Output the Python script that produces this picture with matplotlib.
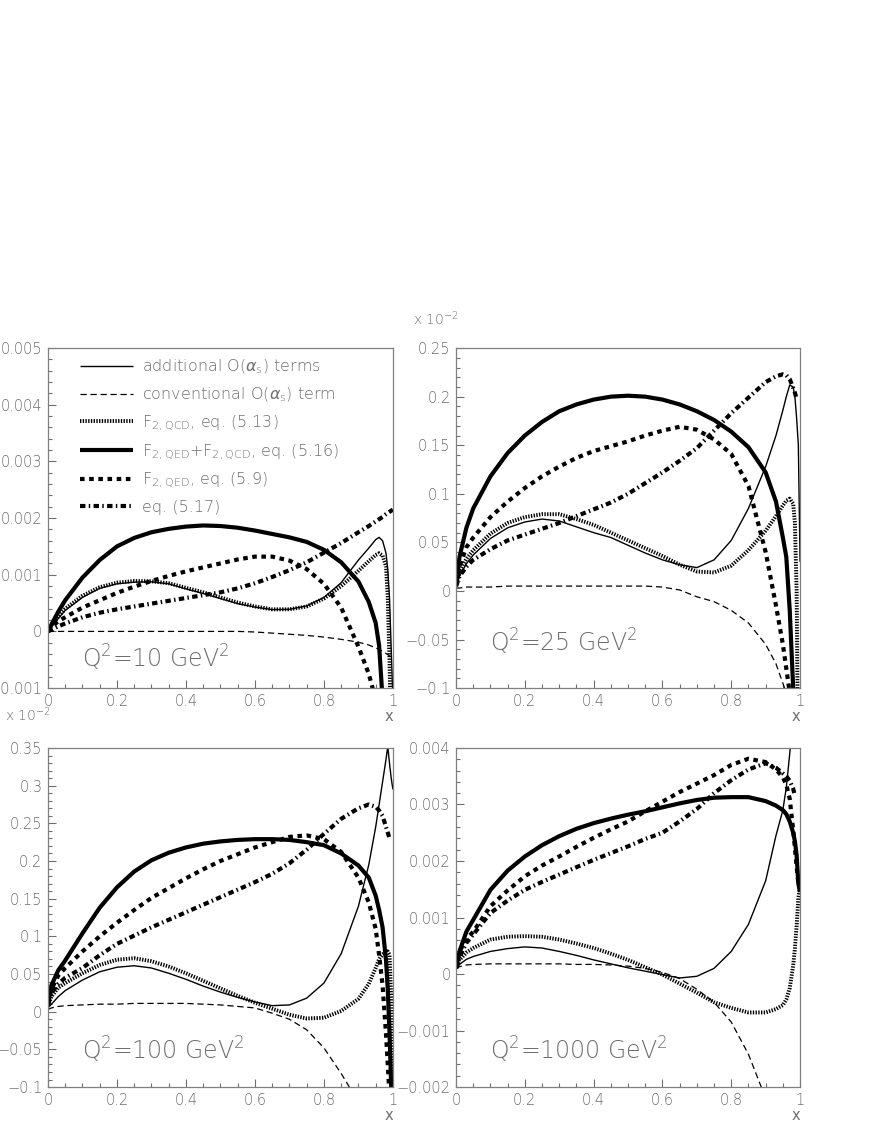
import numpy as np
import matplotlib
matplotlib.use('Agg')
import matplotlib.pyplot as plt
from matplotlib.ticker import MultipleLocator, FuncFormatter

# common x grid
x = [0, 0.01, 0.03, 0.05, 0.1, 0.15, 0.2, 0.25, 0.3, 0.35, 0.4, 0.45, 0.5, 0.55, 0.6,
     0.65, 0.7, 0.75, 0.8, 0.85, 0.9, 0.93, 0.95, 0.96, 0.97, 0.98, 0.985, 0.99, 0.995, 1.0]
nan = float('nan')

# Q^2 = 10 GeV^2  (values in units of 1e-3)
q10_add = [0, .08, .23, .37, .6, .76, .84, .87, .875, .84, .75, .67, .58, .49, .43,
           .385, .39, .45, .6, .86, 1.26, 1.47, 1.62, 1.66, 1.6, 1.38, 1.1, .6, -.3, -1.2]
q10_conv = [0, 0, 0, 0, 0, 0, 0, 0, 0, 0, 0, 0, 0, 0, -.01,
            -.03, -.05, -.07, -.1, -.14, -.19, -.24, -.29, -.32, -.35, -.39, -.41, -.43, -.45, -.47]
q10_qcd = [0, .1, .26, .4, .63, .78, .86, .89, .885, .85, .77, .69, .6, .51, .44,
           .39, .39, .44, .58, .8, 1.07, 1.24, 1.35, 1.38, 1.34, 1.15, .6, -.5, -2, -2]
q10_sum = [0, .12, .35, .55, .95, 1.26, 1.5, 1.65, 1.75, 1.81, 1.85, 1.87, 1.86, 1.83, 1.78,
           1.72, 1.66, 1.58, 1.44, 1.22, .88, .52, .15, -.25, -1.2, -2, -2, -2, -2, -2]
q10_qed = [0, .08, .18, .25, .42, .55, .68, .79, .89, .98, 1.06, 1.13, 1.2, 1.27, 1.32,
           1.32, 1.25, 1.1, .84, .42, -.27, -.75, -1.2, -2, -2, -2, -2, -2, -2, -2]
q10_eq517 = [0, .03, .09, .14, .25, .33, .39, .44, .49, .54, .59, .64, .69, .76, .85,
             .96, 1.08, 1.22, 1.39, 1.56, 1.75, 1.86, 1.94, 1.98, 2.02, 2.07, 2.09, 2.11, 2.13, 2.15]

# Q^2 = 25 GeV^2  (values in units of 1e-2)
q25_add = [.005, .015, .028, .037, .054, .065, .071, .074, .072, .066, .06, .055, .047, .039, .032,
           .027, .024, .032, .052, .085, .128, .16, .186, .2, .212, .21, .2, .178, .15, .03]
q25_conv = [.003, .003, .004, .004, .004, .005, .005, .005, .005, .005, .005, .005, .005, .005, .004,
            .001, -.006, -.011, -.02, -.033, -.055, -.075, -.095, -.105, -.12, -.14, -.15, -.16, -.17, -.18]
q25_qcd = [.005, .02, .033, .042, .059, .07, .076, .079, .079, .074, .068, .06, .052, .044, .036,
           .027, .02, .019, .026, .042, .062, .077, .088, .093, .095, .09, .07, 0, -.2, -.2]
q25_sum = [.005, .035, .065, .085, .118, .142, .16, .174, .185, .192, .197, .2, .201, .2, .197,
           .192, .185, .176, .164, .148, .122, .092, .055, .035, -.02, -.1, -.2, -.2, -.2, -.2]
q25_qed = [.008, .025, .045, .055, .076, .092, .106, .118, .128, .137, .144, .149, .154, .16, .165,
           .169, .166, .156, .141, .108, .04, -.015, -.055, -.08, -.105, -.2, -.2, -.2, -.2, -.2]
q25_eq517 = [.005, .015, .025, .032, .043, .052, .058, .064, .07, .077, .084, .091, .1, .111, .122,
             .134, .147, .165, .183, .199, .215, .221, .223, .222, .218, .209, .204, .198, nan, nan]

# Q^2 = 100 GeV^2  (values in units of 1e-2)
q100_add = [.005, .01, .02, .028, .042, .053, .059, .061, .058, .051, .043, .034, .026, .019, .013,
            .008, .009, .018, .038, .077, .14, .195, .245, .275, .305, .335, .352, .33, .31, .295]
q100_conv = [.003, .005, .007, .008, .009, .01, .01, .011, .011, .011, .011, .01, .009, .007, .005,
             -.002, -.01, -.024, -.048, -.082, -.12, -.15, -.17, -.18, -.19, -.2, -.2, -.2, -.2, -.2]
q100_qcd = [.008, .02, .032, .038, .051, .062, .069, .071, .067, .06, .051, .041, .031, .021, .012,
            .004, -.004, -.009, -.008, .001, .017, .037, .058, .07, .076, .08, .08, .076, .02, -.1]
q100_sum = [.01, .035, .055, .068, .104, .138, .165, .186, .201, .211, .218, .223, .226, .228, .229,
            .229, .228, .225, .221, .21, .194, .178, .154, .135, .112, .068, .03, -.026, -.1, -.2]
q100_qed = [.01, .03, .048, .058, .08, .1, .118, .135, .151, .164, .177, .189, .2, .209, .218,
            .225, .232, .234, .229, .212, .178, .145, .11, .075, .035, -.03, -.07, -.11, -.2, -.2]
q100_eq517 = [.01, .025, .037, .045, .058, .075, .09, .101, .112, .122, .132, .142, .152, .162, .172,
              .183, .197, .215, .236, .256, .27, .275, .272, .267, .26, .245, .238, .23, nan, nan]

# Q^2 = 1000 GeV^2  (values in units of 1e-3)
q1000_add = [.1, .17, .26, .31, .4, .45, .48, .46, .4, .33, .25, .18, .11, .05, -.01,
             -.07, -.04, .1, .4, .88, 1.65, 2.45, 2.9, 3.3, 3.9, 4.6, 5, 5, 5, 5]
q1000_conv = [.1, .13, .16, .17, .18, .18, .18, .18, .18, .17, .17, .16, .14, .1, .03,
              -.08, -.27, -.5, -.85, -1.42, -2.2, -2.8, -3, -3, -3, -3, -3, -3, -3, -3]
q1000_qcd = [.1, .25, .38, .46, .61, .66, .67, .66, .61, .54, .46, .36, .25, .12, -.01,
             -.17, -.33, -.5, -.6, -.68, -.68, -.62, -.55, -.45, -.25, .15, .45, .85, 1.35, 1.55]
q1000_sum = [.1, .4, .75, .96, 1.49, 1.83, 2.08, 2.28, 2.44, 2.57, 2.67, 2.75, 2.82, 2.88, 2.95,
             3.02, 3.08, 3.12, 3.13, 3.13, 3.06, 2.98, 2.9, 2.83, 2.7, 2.5, 2.35, 2.1, 1.6, 1.45]
q1000_qed = [.1, .4, .62, .75, 1.2, 1.48, 1.73, 1.92, 2.08, 2.25, 2.41, 2.56, 2.7, 2.88, 3.05,
             3.22, 3.37, 3.52, 3.7, 3.81, 3.75, 3.62, 3.48, 3.35, 3.1, 2.55, 2.23, 1.9, 1.6, 1.5]
q1000_eq517 = [.1, .3, .55, .7, 1.08, 1.3, 1.49, 1.63, 1.76, 1.89, 2.02, 2.14, 2.26, 2.39, 2.5,
               2.7, 2.92, 3.2, 3.43, 3.62, 3.73, 3.65, 3.55, 3.5, 3.42, 3.28, 3.15, nan, nan, nan]

labels = [r'additional O($\alpha_{\rm s}$) terms',
          r'conventional O($\alpha_{\rm s}$) term',
          r'F$_{\rm 2,QCD}$, eq. (5.13)',
          r'F$_{\rm 2,QED}$+F$_{\rm 2,QCD}$, eq. (5.16)',
          r'F$_{\rm 2,QED}$, eq. (5.9)',
          'eq. (5.17)']

styles = [dict(lw=1.0, ls='-'),
          dict(lw=0.9, ls=(0, (5, 3))),
          dict(lw=2.8, ls=(0, (0.35, 0.35))),
          dict(lw=3.0, ls='-'),
          dict(lw=3.0, ls=(0, (1.1, 1.1))),
          dict(lw=3.0, ls=(0, (1.3, 0.8, 0.35, 0.8)))]

panels = [
    dict(series=[q10_add, q10_conv, q10_qcd, q10_sum, q10_qed, q10_eq517], scale=1e-3,
         ylim=(-0.001, 0.005), major=0.001, minor=0.0002, q2=r'Q$^2$=10 GeV$^2$', qy=0.09),
    dict(series=[q25_add, q25_conv, q25_qcd, q25_sum, q25_qed, q25_eq517], scale=1.0,
         ylim=(-0.1, 0.25), major=0.05, minor=0.01, q2=r'Q$^2$=25 GeV$^2$', qy=0.135),
    dict(series=[q100_add, q100_conv, q100_qcd, q100_sum, q100_qed, q100_eq517], scale=1.0,
         ylim=(-0.1, 0.35), major=0.05, minor=0.01, q2=r'Q$^2$=100 GeV$^2$', qy=0.11),
    dict(series=[q1000_add, q1000_conv, q1000_qcd, q1000_sum, q1000_qed, q1000_eq517], scale=1e-3,
         ylim=(-0.002, 0.004), major=0.001, minor=0.0002, q2=r'Q$^2$=1000 GeV$^2$', qy=0.11),
]

gray = '#6e6e6e'
plt.rcParams['mathtext.fontset'] = 'dejavusans'
plt.rcParams['font.weight'] = 'light'

fig = plt.figure(figsize=(8.72, 11.28), dpi=100)
boxes = [[0.055, 0.390, 0.3956, 0.3014],
         [0.523, 0.390, 0.3945, 0.3014],
         [0.055, 0.0363, 0.3956, 0.3006],
         [0.523, 0.0363, 0.3945, 0.3006]]

fmt = FuncFormatter(lambda v, p: ('%g' % round(v, 6)).replace('-', '\u2212'))

for i, (box, p) in enumerate(zip(boxes, panels)):
    ax = fig.add_axes(box)
    for ys, st, lab in zip(p['series'], styles, labels):
        ax.plot(x, np.array(ys) * p['scale'], color='black', label=lab,
                solid_capstyle='butt', dash_capstyle='butt', **st)
    ax.set_xlim(0, 1)
    ax.set_ylim(*p['ylim'])
    ax.xaxis.set_major_locator(MultipleLocator(0.2))
    ax.xaxis.set_minor_locator(MultipleLocator(0.05))
    ax.yaxis.set_major_locator(MultipleLocator(p['major']))
    ax.yaxis.set_minor_locator(MultipleLocator(p['minor']))
    ax.xaxis.set_major_formatter(fmt)
    ax.yaxis.set_major_formatter(fmt)
    ax.tick_params(which='both', direction='in', top=False, right=False,
                   colors=gray, labelsize=10.5, width=0.8)
    ax.tick_params(which='major', length=6, pad=4)
    ax.tick_params(which='minor', length=3)
    for s in ax.spines.values():
        s.set_color('#808080')
        s.set_linewidth(0.9)
    ax.set_xlabel('x', loc='right', color=gray, fontsize=10.5, labelpad=0)
    ax.text(0.1, p['qy'], p['q2'], transform=ax.transAxes, fontsize=17,
            color=gray, va='center', ha='left')
    if i == 0:
        leg = ax.legend(loc='upper left', bbox_to_anchor=(0.085, 0.982), frameon=False,
                        fontsize=11.5, handlelength=3.3, handletextpad=0.55,
                        labelspacing=0.6, borderpad=0.2, borderaxespad=0)
        for t in leg.get_texts():
            t.set_color(gray)

fig.text(0.474, 0.712, r'x 10$^{-2}$', fontsize=10, color=gray)
fig.text(0.006, 0.361, r'x 10$^{-2}$', fontsize=10, color=gray)

fig.savefig('out.png', dpi=100)
